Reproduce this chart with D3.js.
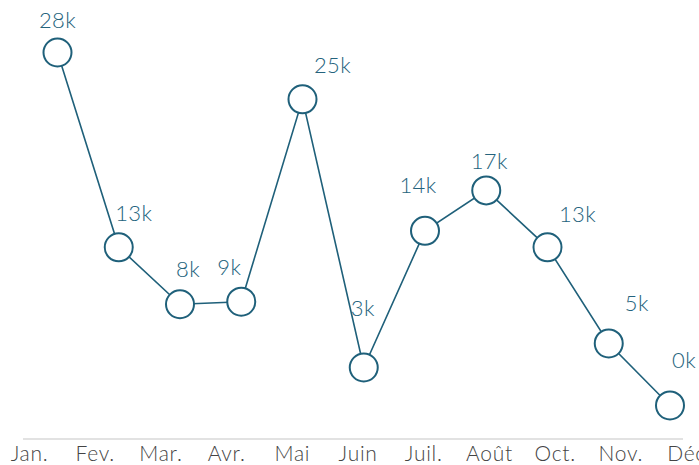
<!DOCTYPE html>
<html>
<head>
<meta charset="utf-8">
<script src="https://cdn.jsdelivr.net/npm/d3@7"></script>
<style>
	body { margin: 0; background: #fff; }
	svg { display: block; font-family: Lato, "Open Sans", sans-serif; font-weight: 300; }
</style>
</head>
<body>
<div id="chart"></div>
<script>
// chart data
// ==========
var months = ["Jan.", "Fev.", "Mar.", "Avr.", "Mai", "Juin", "Juil.", "Août", "Oct.", "Nov.", "Déc"];
var values = [28300, 12900, 8400, 8600, 24600, 3400, 14200, 17400, 12900, 5300, 400];

// where each value label sits relative to its point [dx, dy]
var labelOffset = [[0, -25], [15, -26], [8, -27], [-12, -27], [30, -26], [-1, -51],
	[-7, -38], [3, -21], [30, -25], [28, -32], [14, -37]];

var svgWidth = 699;
var svgHeight = 465;

var svg = d3.select("#chart")
	.append("svg")
	.attr("width", svgWidth)
	.attr("height", svgHeight);

// scales
var xScale = d3.scalePoint()
	.domain(months)
	.range([57.5, 670]);

var xLabelScale = d3.scalePoint()
	.domain(months)
	.range([29, 686]);

var yScale = d3.scaleLinear()
	.domain([0, 28300])
	.range([410.5, 52.5]);

var data = months.map((m, i) => ({ month: m, value: values[i], off: labelOffset[i] }));

// baseline
svg.append("line")
	.attr("x1", 23)
	.attr("x2", 683)
	.attr("y1", 439)
	.attr("y2", 439)
	.attr("stroke", "#d9d9d9")
	.attr("stroke-width", 1.5);

// month labels
var xAxis = d3.axisBottom(xLabelScale).tickSize(0).tickPadding(0);
var xAxisGroup = svg.append("g")
	.attr("transform", "translate(0, 446)")
	.call(xAxis);
xAxisGroup.select(".domain").remove();
xAxisGroup.selectAll("text")
	.attr("dy", "0.71em")
	.attr("fill", "#444")
	.style("font-size", "21px")
	.style("font-family", "Lato, 'Open Sans', sans-serif")
	.style("font-weight", 300)
	.style("letter-spacing", "0.7px");

// line
var line = d3.line()
	.x(d => xScale(d.month))
	.y(d => yScale(d.value));

svg.append("path")
	.datum(data)
	.attr("d", line)
	.attr("fill", "none")
	.attr("stroke", "#1f607a")
	.attr("stroke-width", 1.6);

// circles
svg.selectAll("circle")
	.data(data)
	.enter()
	.append("circle")
	.attr("cx", d => xScale(d.month))
	.attr("cy", d => yScale(d.value))
	.attr("r", 14)
	.attr("fill", "#fff")
	.attr("stroke", "#1f607a")
	.attr("stroke-width", 2);

// value labels
svg.selectAll(".val")
	.data(data)
	.enter()
	.append("text")
	.attr("class", "val")
	.attr("x", d => xScale(d.month) + d.off[0])
	.attr("y", d => yScale(d.value) + d.off[1])
	.attr("text-anchor", "middle")
	.attr("fill", "#24637d")
	.style("font-size", "22px")
	.style("letter-spacing", "0.4px")
	.text(d => Math.round(d.value / 1000) + "k");
</script>
</body>
</html>
